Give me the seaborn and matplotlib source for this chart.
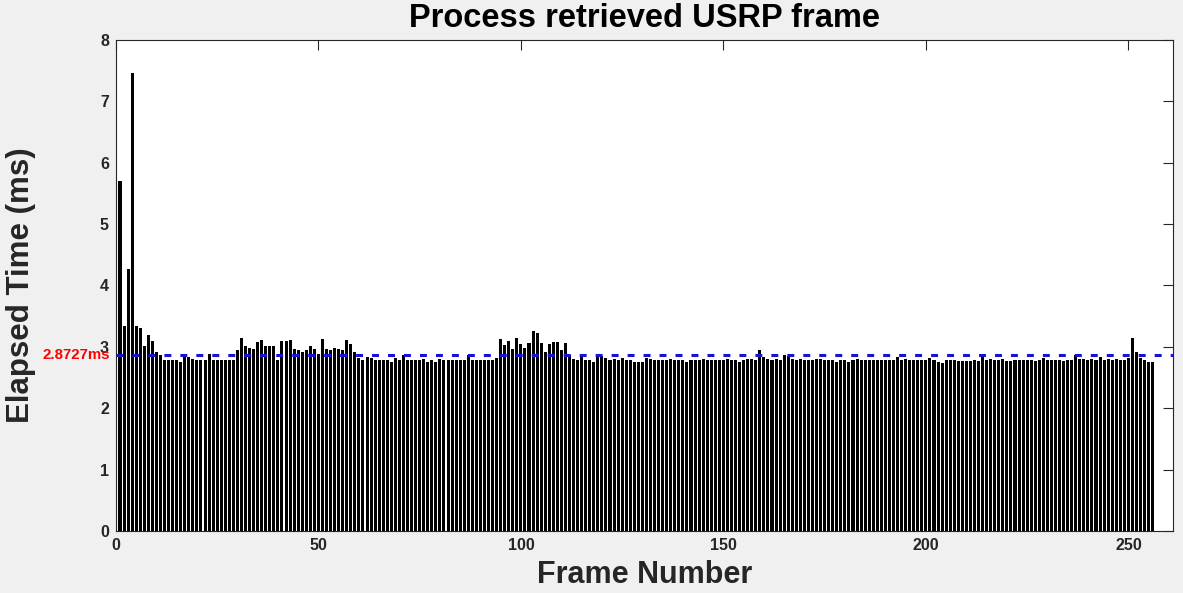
import pandas as pd
import matplotlib
matplotlib.use("Agg")
import matplotlib.pyplot as plt
import matplotlib.transforms as mtransforms
import seaborn as sns

# =========================
# 1) DATA (read off the reference picture)
# =========================
frame_number = list(range(1, 257))

elapsed_ms = [
    # 1 - 50
    5.70, 3.34, 4.27, 7.47, 3.34, 3.30, 3.01, 3.19, 3.09, 2.92,
    2.87, 2.79, 2.79, 2.79, 2.79, 2.75, 2.84, 2.83, 2.80, 2.79,
    2.78, 2.79, 2.88, 2.79, 2.79, 2.78, 2.79, 2.78, 2.78, 2.95,
    3.14, 3.01, 2.98, 2.97, 3.08, 3.12, 3.01, 3.01, 3.01, 2.79,
    3.09, 3.09, 3.12, 2.97, 2.95, 2.92, 2.95, 3.01, 2.96, 2.88,
    # 51 - 100
    3.13, 2.96, 2.95, 2.98, 2.96, 2.95, 3.11, 3.05, 2.92, 2.82,
    2.79, 2.83, 2.82, 2.78, 2.78, 2.78, 2.78, 2.75, 2.82, 2.79,
    2.87, 2.79, 2.78, 2.79, 2.79, 2.81, 2.76, 2.78, 2.75, 2.80,
    2.79, 2.78, 2.78, 2.79, 2.79, 2.79, 2.87, 2.79, 2.79, 2.78,
    2.78, 2.79, 2.78, 2.82, 3.13, 3.03, 3.09, 2.96, 3.14, 3.05,
    # 101 - 150
    2.98, 3.06, 3.26, 3.23, 3.06, 2.92, 3.05, 3.08, 3.08, 2.95,
    3.06, 2.87, 2.80, 2.79, 2.83, 2.79, 2.79, 2.76, 2.85, 2.85,
    2.82, 2.79, 2.80, 2.79, 2.82, 2.78, 2.79, 2.75, 2.76, 2.76,
    2.82, 2.80, 2.78, 2.78, 2.78, 2.78, 2.80, 2.78, 2.79, 2.78,
    2.75, 2.78, 2.79, 2.79, 2.81, 2.78, 2.78, 2.78, 2.79, 2.79,
    # 151 - 200
    2.80, 2.78, 2.78, 2.75, 2.79, 2.80, 2.80, 2.78, 2.95, 2.83,
    2.80, 2.79, 2.80, 2.79, 2.87, 2.85, 2.80, 2.78, 2.80, 2.79,
    2.78, 2.78, 2.80, 2.80, 2.79, 2.78, 2.79, 2.75, 2.79, 2.78,
    2.76, 2.79, 2.80, 2.78, 2.78, 2.78, 2.79, 2.78, 2.78, 2.78,
    2.79, 2.79, 2.83, 2.78, 2.80, 2.78, 2.78, 2.78, 2.78, 2.78,
    # 201 - 256
    2.82, 2.78, 2.76, 2.74, 2.78, 2.78, 2.78, 2.77, 2.77, 2.77,
    2.77, 2.78, 2.77, 2.84, 2.78, 2.80, 2.78, 2.79, 2.80, 2.77,
    2.77, 2.78, 2.78, 2.78, 2.79, 2.78, 2.77, 2.79, 2.82, 2.78,
    2.78, 2.78, 2.79, 2.77, 2.79, 2.78, 2.87, 2.81, 2.80, 2.79,
    2.80, 2.78, 2.84, 2.78, 2.80, 2.78, 2.80, 2.78, 2.79, 2.82,
    3.14, 2.92, 2.82, 2.78, 2.76, 2.76,
]

mean_ms = 2.8727
x_ticks = [0, 50, 100, 150, 200, 250]
y_ticks = [0, 1, 2, 3, 4, 5, 6, 7, 8]

df = pd.DataFrame({"frame": frame_number, "elapsed": elapsed_ms})

# =========================
# 2) STYLE
# =========================
sns.set_style("white")
plt.rcParams["font.family"] = ["Liberation Sans", "DejaVu Sans"]
plt.rcParams["font.weight"] = "bold"
plt.rcParams["lines.scale_dashes"] = False

fig = plt.figure(figsize=(11.83, 5.93), dpi=100, facecolor="#f0f0f0")
ax = fig.add_axes([0.098, 0.1046, 0.8935, 0.8279])
ax.set_facecolor("white")

# =========================
# 3) BARS + MEAN LINE
# =========================
sns.barplot(data=df, x="frame", y="elapsed", native_scale=True,
            color="black", saturation=1, width=0.75, errorbar=None,
            linewidth=0, ax=ax)

ax.axhline(mean_ms, color="#1414d8", linewidth=2.2, linestyle=(0, (5, 6.5)))

label_tf = mtransforms.blended_transform_factory(ax.transAxes, ax.transData)
ax.text(-0.006, mean_ms, f"{mean_ms}ms", transform=label_tf, ha="right",
        va="center", color="red", fontsize=10.8, fontweight="bold")

# =========================
# 4) AXES
# =========================
ax.set_xlim(0, 261)
ax.set_ylim(0, 8)
ax.set_xticks(x_ticks)
ax.set_yticks(y_ticks)
ax.tick_params(direction="in", length=7, width=0.8, top=True, right=True,
               labelsize=11.5, colors="#262626", pad=5)
for lab in ax.get_xticklabels() + ax.get_yticklabels():
    lab.set_fontweight("bold")
for sp in ax.spines.values():
    sp.set_visible(True)
    sp.set_color("#262626")
    sp.set_linewidth(0.8)

ax.set_title("Process retrieved USRP frame", fontsize=23.5, fontweight="bold",
             color="black", pad=9.5)
ax.set_xlabel("Frame Number", fontsize=22, fontweight="bold",
              color="#262626", labelpad=5)
ax.set_ylabel("Elapsed Time (ms)", fontsize=22.5, fontweight="bold",
              color="#262626")
ax.yaxis.set_label_coords(-0.0757, 0.5)

fig.savefig("out.png", dpi=100, facecolor=fig.get_facecolor())
